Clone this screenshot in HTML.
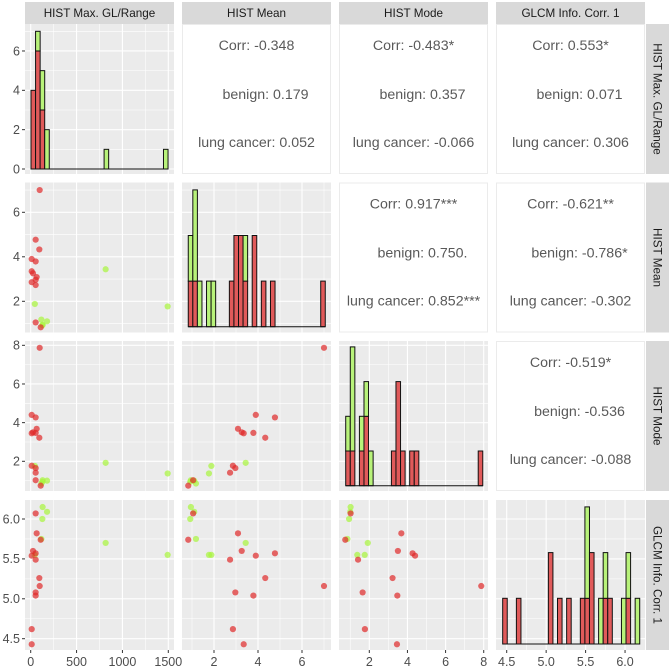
<!DOCTYPE html>
<html><head><meta charset="utf-8">
<style>
html,body{margin:0;padding:0;background:#fff;}
svg{display:block;font-family:"Liberation Sans",Arial,sans-serif;}
</style></head>
<body>
<svg id="chart" width="669" height="668" viewBox="0 0 669 668" xmlns="http://www.w3.org/2000/svg"></svg>
<script>
// ---- data ----
const varNames = ["HIST Max. GL/Range","HIST Mean","HIST Mode","GLCM Info. Corr. 1"];
const groups = ["benign","lung cancer"];
const maxGL = [130,178,127,116,817,1493,45, 54,65,109,25,54,11,54,94,98,54,54,11,11];
const meanV = [0.95,1.1,0.92,1.18,3.44,1.77,1.88, 1.05,3.09,0.83,3.26,4.77,3.9,2.73,4.33,7.0,2.97,3.79,2.86,3.35];
const modeV = [1.02,1.0,0.94,0.85,1.92,1.37,1.76, 1.02,3.68,0.74,3.5,4.27,4.4,1.41,3.22,7.87,1.65,3.47,1.77,3.45];
const glcmV = [6.15,6.09,6.0,5.75,5.70,5.55,5.55, 6.07,5.82,5.74,5.60,5.57,5.54,5.49,5.26,5.16,5.08,5.04,4.62,4.43];
const groupV = [0,0,0,0,0,0,0, 1,1,1,1,1,1,1,1,1,1,1,1,1];
// histogram bins (start, width in data units) and stacked counts
const histStart = [3.3, 0.83, 0.763, 4.449];
const histWidth = [49.8, 0.2076, 0.2396, 0.0579];
const histRed0 =   [4,6,3,0,0,0,0,0,0,0,0,0,0,0,0,0,0,0,0,0,0,0,0,0,0,0,0,0,0,0];
const histGreen0 = [0,1,2,2,0,0,0,0,0,0,0,0,0,0,0,0,1,0,0,0,0,0,0,0,0,0,0,0,0,1];
const histRed1 =   [1,1,0,0,0,0,0,0,0,1,2,2,1,0,2,0,1,0,1,0,0,0,0,0,0,0,0,0,0,1];
const histGreen1 = [1,2,1,0,1,1,0,0,0,0,0,0,1,0,0,0,0,0,0,0,0,0,0,0,0,0,0,0,0,0];
const histRed2 =   [1,1,0,1,2,0,0,0,0,0,1,3,1,0,1,1,0,0,0,0,0,0,0,0,0,0,0,0,0,1];
const histGreen2 = [1,3,0,1,1,1,0,0,0,0,0,0,0,0,0,0,0,0,0,0,0,0,0,0,0,0,0,0,0,0];
const histRed3 =   [1,0,0,1,0,0,0,0,0,0,2,0,1,0,1,0,0,1,1,2,0,0,1,1,0,0,0,1,0,0];
const histGreen3 = [0,0,0,0,0,0,0,0,0,0,0,0,0,0,0,0,0,0,2,0,0,1,1,0,0,0,1,1,0,1];
const corrText = {
 "0-1":["Corr: -0.348","benign: 0.179","lung cancer: 0.052"],
 "0-2":["Corr: -0.483*","benign: 0.357","lung cancer: -0.066"],
 "0-3":["Corr: 0.553*","benign: 0.071","lung cancer: 0.306"],
 "1-2":["Corr: 0.917***","benign: 0.750.","lung cancer: 0.852***"],
 "1-3":["Corr: -0.621**","benign: -0.786*","lung cancer: -0.302"],
 "2-3":["Corr: -0.519*","benign: -0.536","lung cancer: -0.088"]
};
const tickVals = [[0,500,1000,1500],[2,4,6],[2,4,6,8],[4.5,5.0,5.5,6.0]];
const tickLabels = [["0","500","1000","1500"],["2","4","6"],["2","4","6","8"],["4.5","5.0","5.5","6.0"]];
const countTicks = [0,2,4,6];
const countTickLabels = ["0","2","4","6"];

// ---- layout / scales ----
const colX=[25,182,339,496], rowY=[24,182.5,341,500], PW=149, PH=150;
const xScale=[v=>30.7+v*0.09173, v=>214+(v-2)*22, v=>369.3+(v-2)*19.07, v=>506.7+(v-4.5)*78.9];
const yScale=[c=>169-c*19.67, v=>301.3-(v-2)*22.25, v=>461.3-(v-2)*19.33, v=>638.7-(v-4.5)*79.8];
const histBase=[169,326.7,485.7,644], histUnit=[19.67,45.6,34.7,45.7];
const xMajor=[[0,500,1000,1500],[2,4,6],[2,4,6,8],[4.5,5,5.5,6]];
const xMinor=[[250,750,1250],[1,3,5,7],[1,3,5,7],[4.25,4.75,5.25,5.75]];
const yMajor=[[0,2,4,6],[2,4,6],[2,4,6,8],[4.5,5,5.5,6]];
const yMinor=[[1,3,5,7],[1,3,5,7],[1,3,5,7],[4.25,4.75,5.25,5.75]];
const vars=[maxGL,meanV,modeV,glcmV];
const hR=[histRed0,histRed1,histRed2,histRed3], hG=[histGreen0,histGreen1,histGreen2,histGreen3];

const svg=document.getElementById('chart');
const NS='http://www.w3.org/2000/svg';
function mk(tag,attrs,parent){const e=document.createElementNS(NS,tag);for(const k in attrs)e.setAttribute(k,attrs[k]);(parent||svg).appendChild(e);return e;}
const defs=mk('defs',{});

for(let r=0;r<4;r++){for(let c=0;c<4;c++){
  const x0=colX[c], y0=rowY[r];
  const g=mk('g',{});
  
  
  if(c>r){
    const bg=mk('rect',{x:x0+0.5,y:y0+0.5,width:PW-1,height:PH-1,fill:'#fff',stroke:'#EBEBEB','stroke-width':1},g);
    
    
    const t=corrText[r+'-'+c];
    const offs=[[0,26],[9,75],[0,123]];
    t.forEach((s,i)=>{
      const te=mk('text',{x:x0+PW/2+offs[i][0],y:y0+offs[i][1],'text-anchor':'middle','font-size':'14.2',fill:'#595959'},g);
      te.textContent=s;
      
      
    });
    continue;
  }
  const cp=mk('clipPath',{id:'cp'+r+c},defs);
  mk('rect',{x:x0,y:y0,width:PW,height:PH},cp);
  const bg=mk('rect',{x:x0,y:y0,width:PW,height:PH,fill:'#EBEBEB'},g);
  
  
  const gg=mk('g',{'clip-path':'url(#cp'+r+c+')'},g);
  xMinor[c].forEach(v=>mk('line',{x1:xScale[c](v),x2:xScale[c](v),y1:y0,y2:y0+PH,stroke:'#fff','stroke-width':0.55},gg));
  yMinor[r].forEach(v=>mk('line',{y1:yScale[r](v),y2:yScale[r](v),x1:x0,x2:x0+PW,stroke:'#fff','stroke-width':0.55},gg));
  xMajor[c].forEach(v=>mk('line',{x1:xScale[c](v),x2:xScale[c](v),y1:y0,y2:y0+PH,stroke:'#fff','stroke-width':1.1},gg));
  yMajor[r].forEach(v=>mk('line',{y1:yScale[r](v),y2:yScale[r](v),x1:x0,x2:x0+PW,stroke:'#fff','stroke-width':1.1},gg));
  if(r===c){
    const k=r, base=histBase[r], u=histUnit[r];
    const xs=i=>xScale[k](histStart[k]+i*histWidth[k]);
    for(let i=0;i<hR[k].length;i++){
      const rc=hR[k][i], gc=hG[k][i];
      if(rc>0){const b=mk('rect',{x:xs(i),y:base-rc*u,width:xs(i+1)-xs(i),height:rc*u,fill:'#E05A5A',stroke:'#111','stroke-width':1},gg);
        
        }
      if(gc>0){const b=mk('rect',{x:xs(i),y:base-(rc+gc)*u,width:xs(i+1)-xs(i),height:gc*u,fill:'#B8F27A',stroke:'#111','stroke-width':1},gg);
        
        }
    }
    mk('line',{x1:xs(0),x2:xs(hR[k].length),y1:base,y2:base,stroke:'#111','stroke-width':1},gg);
  } else {
    const xv=vars[c], yv=vars[r];
    for(let i=0;i<xv.length;i++){
      const p=mk('circle',{cx:xScale[c](xv[i]),cy:yScale[r](yv[i]),r:3.1,fill:groupV[i]?'#E02A2A':'#A8F53C','fill-opacity':0.7},gg);
      
      
    }
  }
}}

// top strips
for(let c=0;c<4;c++){
  const s=mk('rect',{x:colX[c],y:2,width:PW,height:22,fill:'#D9D9D9'});
  
  
  const t=mk('text',{x:colX[c]+PW/2,y:17,'text-anchor':'middle','font-size':'11.7',fill:'#1A1A1A'});
  t.textContent=varNames[c];
  
  
}
// right strips
for(let r=0;r<4;r++){
  const s=mk('rect',{x:646,y:rowY[r],width:23,height:PH,fill:'#D9D9D9'});
  
  
  const cx=657.5, cy=rowY[r]+PH/2;
  const t=mk('text',{x:cx,y:cy+4,'text-anchor':'middle','font-size':'11.7',fill:'#1A1A1A',transform:'rotate(90 '+cx+' '+cy+')'});
  t.textContent=varNames[r];
  
  
}
// left axis
for(let r=0;r<4;r++){
  const vals=r===0?countTicks:tickVals[r], labs=r===0?countTickLabels:tickLabels[r];
  vals.forEach((v,i)=>{
    const y=yScale[r](v);
    mk('line',{x1:22,x2:25,y1:y,y2:y,stroke:'#333','stroke-width':1});
    const t=mk('text',{x:20,y:y+4.3,'text-anchor':'end','font-size':'12.5',fill:'#4D4D4D'});
    t.textContent=labs[i];
    
    
  });
}
// bottom axis
for(let c=0;c<4;c++){
  tickVals[c].forEach((v,i)=>{
    const x=xScale[c](v);
    mk('line',{x1:x,x2:x,y1:650,y2:653,stroke:'#333','stroke-width':1});
    const t=mk('text',{x:x,y:666,'text-anchor':'middle','font-size':'12.5',fill:'#4D4D4D'});
    t.textContent=tickLabels[c][i];
    
    
  });
}
</script>
</body></html>
